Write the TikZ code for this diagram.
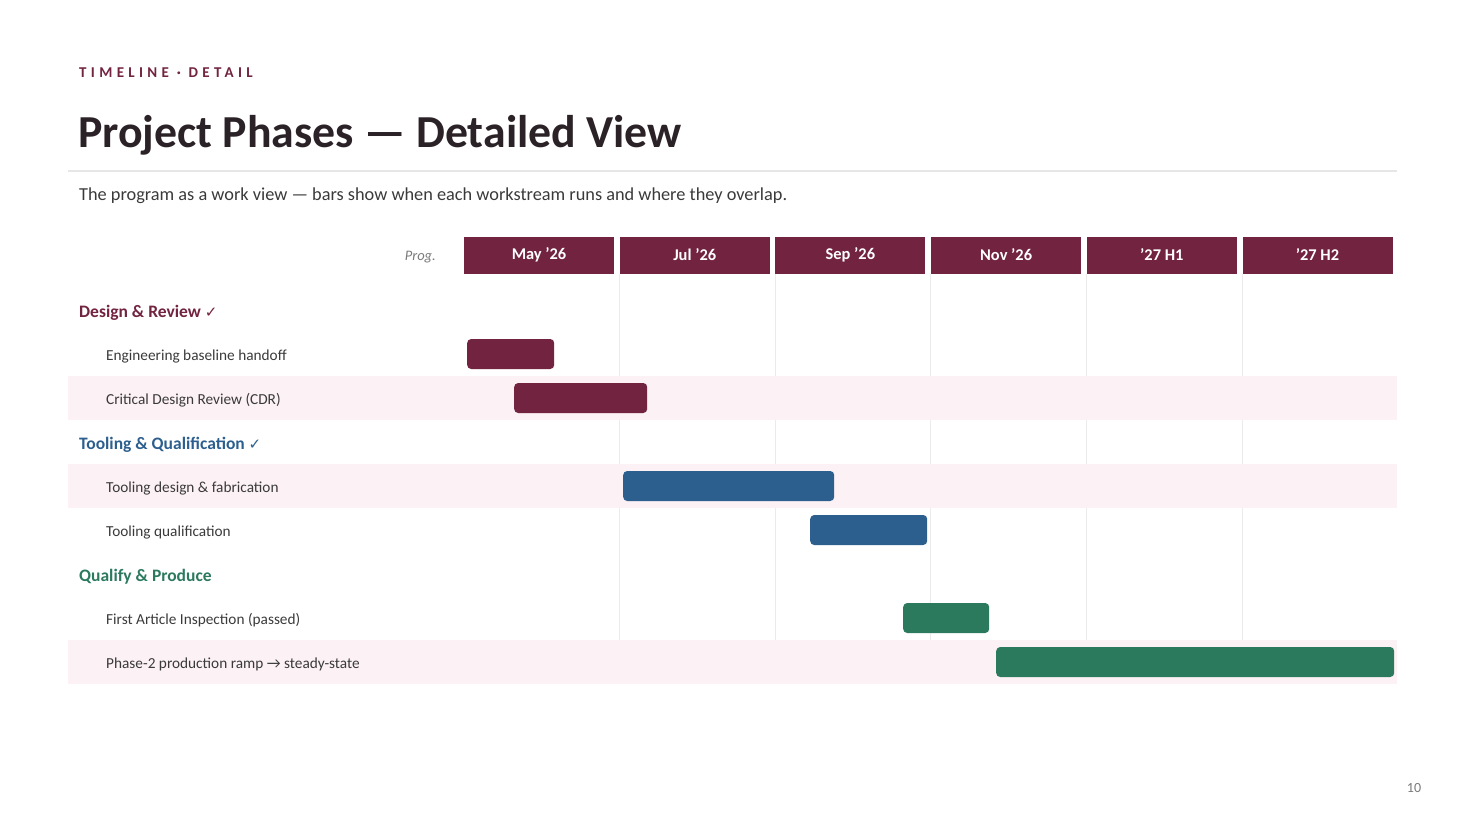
\documentclass[tikz,border=0pt]{standalone}
\usepackage{fontspec}
\setmainfont{Carlito}
\newfontfamily\symfont{DejaVu Sans}
\definecolor{maroon}{HTML}{722340}
\definecolor{steel}{HTML}{2D5F8E}
\definecolor{forest}{HTML}{2C7A5E}
\definecolor{ink}{HTML}{2A2226}
\definecolor{body}{HTML}{3A3A3A}
\definecolor{muted}{HTML}{7A7A7A}
\definecolor{rowpink}{HTML}{FCF1F4}
\definecolor{gridgray}{HTML}{EBEBEB}
\definecolor{rulegray}{HTML}{E6E6E6}

\begin{document}
\begin{tikzpicture}[x=1pt,y=-1pt,
  head/.style={fill=maroon,minimum width=150pt,minimum height=37pt,inner sep=0pt,text=white,font=\fontsize{16.4}{19}\selectfont\bfseries},
  group/.style={anchor=west,inner sep=0pt,font=\fontsize{17.5}{20}\selectfont\bfseries},
  task/.style={anchor=west,inner sep=0pt,text=body,font=\fontsize{15.3}{18}\selectfont},
  band/.style={fill=rowpink,minimum width=1329pt,minimum height=44pt,inner sep=0pt,anchor=west},
  bar/.style={rounded corners=4pt,minimum height=30pt,inner sep=0pt,anchor=west},
  gridline/.style={draw=gridgray,line width=1pt}]
\useasboundingbox (0,0) rectangle (1466,825);

% heading
\node[anchor=base west,inner sep=0pt,text=maroon,font=\fontsize{15}{18}\selectfont\bfseries\addfontfeature{LetterSpace=29}] (kicker) at (79,77) {TIMELINE · DETAIL};
\node[anchor=base west,inner sep=0pt,text=ink,font=\fontsize{45.8}{52}\selectfont\bfseries] (title) at (78,147) {Project Phases — Detailed View};
\draw[rulegray,line width=2pt] (68,171) -- (1397,171);
\node[anchor=base west,inner sep=0pt,text=body,font=\fontsize{18.3}{22}\selectfont] (sub) at (79,200) {The program as a work view — bars show when each workstream runs and where they overlap.};

% header
\node[anchor=east,inner sep=0pt,text=muted,font=\fontsize{14.5}{17}\selectfont\itshape] (prog) at (436,257) {Prog.};
\foreach \lab [count=\i] in {May '26,Jul '26,Sep '26,Nov '26,'27 H1,'27 H2}
  \node[head] (h\i) at ({539+(\i-1)*155.7},255) {\lab};

% grid
\foreach \i in {2,...,6}
  \draw[gridline] (h\i.south west) -- (h\i.south west |- 0,640);

% pink rows
\node[band] (r3) at (68,398) {};
\node[band] (r5) at (68,486) {};
\node[band] (r9) at (68,662) {};

% rows
\node[group,text=maroon] (g1) at (79,313) {Design \& Review {\symfont\fontsize{15}{18}\selectfont\mdseries ✓}};
\node[task] (t1) at (106,356) {Engineering baseline handoff};
\node[task] (t2) at (106,400) {Critical Design Review (CDR)};
\node[group,text=steel] (g2) at (79,445) {Tooling \& Qualification {\symfont\fontsize{15}{18}\selectfont\mdseries ✓}};
\node[task] (t3) at (106,488) {Tooling design \& fabrication};
\node[task] (t4) at (106,532) {Tooling qualification};
\node[group,text=forest] (g3) at (79,577) {Qualify \& Produce};
\node[task] (t5) at (106,620) {First Article Inspection (passed)};
\node[task] (t6) at (106,664) {Phase-2 production ramp → steady-state};

% bars
\node[bar,fill=maroon,minimum width=87pt] (b1) at (467,354) {};
\node[bar,fill=maroon,minimum width=133pt] (b2) at (514,398) {};
\node[bar,fill=steel,minimum width=211pt] (b3) at (623,486) {};
\node[bar,fill=steel,minimum width=117pt] (b4) at (810,530) {};
\node[bar,fill=forest,minimum width=86pt] (b5) at (903,618) {};
\node[bar,fill=forest,minimum width=398pt] (b6) at (996,662) {};

\node[text=muted,font=\fontsize{14}{17}\selectfont] (page) at (1414,788) {10};
\end{tikzpicture}
\end{document}
